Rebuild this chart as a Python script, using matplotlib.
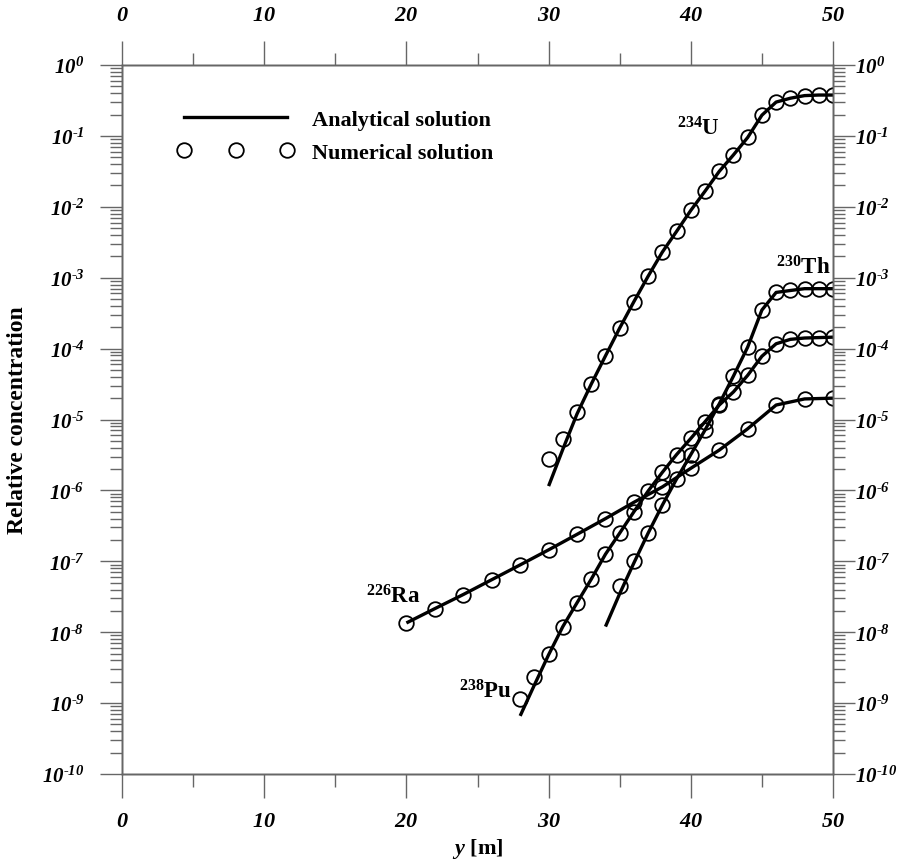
import numpy as np
import matplotlib
matplotlib.use("Agg")
import matplotlib.pyplot as plt
from matplotlib.ticker import FuncFormatter, LogLocator, MultipleLocator, NullFormatter, FixedLocator

# ---------------- data ----------------
# 234U
u_x_num = [30, 31, 32, 33, 34, 35, 36, 37, 38, 39, 40, 41, 42, 43, 44, 45, 46, 47, 48, 49, 50]
u_num = [2.75e-6, 5.25e-6, 1.26e-5, 3.16e-5, 7.9e-5, 1.95e-4, 4.6e-4, 1.05e-3, 2.3e-3, 4.5e-3,
         8.9e-3, 1.66e-2, 3.16e-2, 5.4e-2, 9.5e-2, 0.196, 0.30, 0.34, 0.37, 0.377, 0.377]
u_x_ana = [30, 31, 32, 33, 34, 35, 36, 37, 38, 39, 40, 41, 42, 43, 44, 45, 46, 47, 48, 49, 50]
u_ana = [1.15e-6, 3.8e-6, 1.2e-5, 3.16e-5, 7.9e-5, 1.95e-4, 4.6e-4, 1.05e-3, 2.3e-3, 4.5e-3,
         8.9e-3, 1.66e-2, 3.16e-2, 5.4e-2, 9.5e-2, 0.196, 0.30, 0.34, 0.37, 0.377, 0.377]

# 238Pu
pu_x_num = [28, 29, 30, 31, 32, 33, 34, 35, 36, 37, 38, 39, 40, 41, 42, 43, 44, 45, 46, 47, 48, 49, 50]
pu_num = [1.15e-9, 2.3e-9, 5.0e-9, 1.2e-8, 2.6e-8, 5.6e-8, 1.26e-7, 2.5e-7, 5.0e-7, 9.8e-7,
          1.8e-6, 3.2e-6, 5.4e-6, 9.3e-6, 1.6e-5, 2.45e-5, 4.2e-5, 7.8e-5, 1.17e-4, 1.35e-4,
          1.41e-4, 1.43e-4, 1.45e-4]
pu_x_ana = [28, 29, 30, 31, 32, 33, 34, 35, 36, 37, 38, 39, 40, 41, 42, 43, 44, 45, 46, 47, 48, 49, 50]
pu_ana = [6.6e-10, 1.8e-9, 4.8e-9, 1.2e-8, 2.6e-8, 5.6e-8, 1.26e-7, 2.5e-7, 5.0e-7, 9.8e-7,
          1.8e-6, 3.2e-6, 5.4e-6, 9.3e-6, 1.6e-5, 2.45e-5, 4.2e-5, 7.8e-5, 1.17e-4, 1.35e-4,
          1.41e-4, 1.43e-4, 1.45e-4]

# 230Th
th_x_num = [35, 36, 37, 38, 39, 40, 41, 42, 43, 44, 45, 46, 47, 48, 49, 50]
th_num = [4.5e-8, 1.0e-7, 2.5e-7, 6.2e-7, 1.45e-6, 3.2e-6, 7.1e-6, 1.66e-5, 4.1e-5, 1.05e-4,
          3.5e-4, 6.2e-4, 6.6e-4, 7.0e-4, 7.0e-4, 7.0e-4]
th_x_ana = [34, 35, 36, 37, 38, 39, 40, 41, 42, 43, 44, 45, 46, 47, 48, 49, 50]
th_ana = [1.2e-8, 3.5e-8, 9.5e-8, 2.5e-7, 6.2e-7, 1.45e-6, 3.2e-6, 7.1e-6, 1.66e-5, 4.1e-5,
          1.05e-4, 3.5e-4, 6.2e-4, 6.6e-4, 7.0e-4, 7.0e-4, 7.0e-4]

# 226Ra
ra_x_num = [20, 22, 24, 26, 28, 30, 32, 34, 36, 38, 40, 42, 44, 46, 48, 50]
ra_num = [1.35e-8, 2.15e-8, 3.4e-8, 5.5e-8, 8.9e-8, 1.45e-7, 2.4e-7, 4.0e-7, 6.8e-7, 1.12e-6,
          2.05e-6, 3.7e-6, 7.4e-6, 1.6e-5, 1.95e-5, 2.0e-5]
ra_x_ana = [20, 22, 24, 26, 28, 30, 32, 34, 36, 38, 40, 42, 44, 46, 48, 50]
ra_ana = [1.35e-8, 2.15e-8, 3.4e-8, 5.5e-8, 8.9e-8, 1.45e-7, 2.4e-7, 4.0e-7, 6.8e-7, 1.12e-6,
          2.05e-6, 3.7e-6, 7.4e-6, 1.6e-5, 1.95e-5, 2.0e-5]

x_ticks = [0, 10, 20, 30, 40, 50]
y_exponents = list(range(-10, 1))

# ---------------- style ----------------
plt.rcParams['font.family'] = ['Liberation Serif', 'DejaVu Serif']
plt.rcParams['font.weight'] = 'bold'
plt.rcParams['mathtext.fontset'] = 'custom'
plt.rcParams['mathtext.rm'] = 'Liberation Serif:italic:bold'
plt.rcParams['mathtext.it'] = 'Liberation Serif:italic:bold'
plt.rcParams['mathtext.bf'] = 'Liberation Serif:bold'
plt.rcParams['mathtext.default'] = 'rm'

axis_col = '#666666'

fig = plt.figure(figsize=(9.10, 8.62), dpi=100)
ax = fig.add_axes([122 / 910, 87 / 862, 711 / 910, 709 / 862])

ax.set_xlim(0, 50)
ax.set_yscale('log')
ax.set_ylim(1e-10, 1)

lw = 2.4
ms = 10.5
mew = 1.3
series = [
    (u_x_ana, u_ana, u_x_num, u_num),
    (pu_x_ana, pu_ana, pu_x_num, pu_num),
    (th_x_ana, th_ana, th_x_num, th_num),
    (ra_x_ana, ra_ana, ra_x_num, ra_num),
]
for xa, ya, xn, yn in series:
    ax.plot(xa, ya, color='black', lw=lw, solid_capstyle='butt', zorder=3)
    ax.plot(xn, yn, linestyle='none', marker='o', ms=ms, mfc='none', mec='black', mew=mew, zorder=4)

# legend proxies
h_ana, = ax.plot([], [], color='black', lw=lw)
h_num, = ax.plot([], [], linestyle='none', marker='o', ms=ms, mfc='none', mec='black', mew=mew)
leg = ax.legend([h_ana, h_num], ['Analytical solution', 'Numerical solution'],
                loc='upper left', bbox_to_anchor=(0.078, 0.937), frameon=False,
                numpoints=3, handlelength=5.25, handletextpad=0.8, labelspacing=0.55,
                borderpad=0, borderaxespad=0,
                prop={'family': 'Liberation Serif', 'weight': 'bold', 'size': 16})

# isotope labels
lab_kw = dict(fontsize=16.5, fontweight='bold', family='Liberation Serif', color='black')
ax.text(42.05, 0.128, r'$^{\mathbf{234}}$U', ha='right', va='center', **lab_kw)
ax.text(49.8, 1.4e-3, r'$^{\mathbf{230}}$Th', ha='right', va='center', **lab_kw)
ax.text(20.96, 3.3e-8, r'$^{\mathbf{226}}$Ra', ha='right', va='center', **lab_kw)
ax.text(27.4, 1.5e-9, r'$^{\mathbf{238}}$Pu', ha='right', va='center', **lab_kw)

def xfmt(v, p):
    return r'$%d$' % int(round(v))

def yfmt(v, p):
    e = int(round(np.log10(v)))
    if e < 0:
        return r'$10^{\text{-}%d}$' % (-e)
    return r'$10^{%d}$' % e

def style_axis(a):
    a.xaxis.set_major_locator(FixedLocator(x_ticks))
    a.xaxis.set_minor_locator(MultipleLocator(5))
    a.xaxis.set_major_formatter(FuncFormatter(xfmt))
    a.yaxis.set_major_locator(FixedLocator([10.0 ** e for e in y_exponents]))
    a.yaxis.set_minor_locator(LogLocator(base=10, subs=np.arange(2, 10), numticks=30))
    a.yaxis.set_minor_formatter(NullFormatter())
    a.yaxis.set_major_formatter(FuncFormatter(yfmt))
    a.tick_params(axis='both', which='both', direction='out', color=axis_col, width=1.0)
    a.tick_params(axis='x', which='major', length=17.5, labelsize=16)
    a.tick_params(axis='x', which='minor', length=9)
    a.tick_params(axis='y', which='major', length=16, labelsize=15)
    a.tick_params(axis='y', which='minor', length=8.5)
    for s in a.spines.values():
        s.set_color(axis_col)
        s.set_linewidth(1.0)

style_axis(ax)
ax.tick_params(axis='x', which='both', top=False, labeltop=False, pad=9)
ax.tick_params(axis='y', which='both', right=False, labelright=False, pad=11)

# top axis (same scale, labels on top)
ax_top = ax.twiny()
ax_top.set_xlim(ax.get_xlim())
style_axis(ax_top)
ax_top.tick_params(axis='x', which='both', top=True, labeltop=True, bottom=False, labelbottom=False, pad=11)

# right axis (same scale, labels on right)
ax_right = ax.twinx()
ax_right.set_yscale('log')
ax_right.set_ylim(ax.get_ylim())
style_axis(ax_right)
ax_right.tick_params(axis='y', which='both', right=True, labelright=True, left=False, labelleft=False, pad=0)

ax.set_ylabel('Relative concentration', fontsize=17, fontweight='bold', labelpad=10)
ax.set_xlabel(r'$y$ [m]', fontsize=16, fontweight='bold', labelpad=4)

fig.savefig('out.png', dpi=100)
